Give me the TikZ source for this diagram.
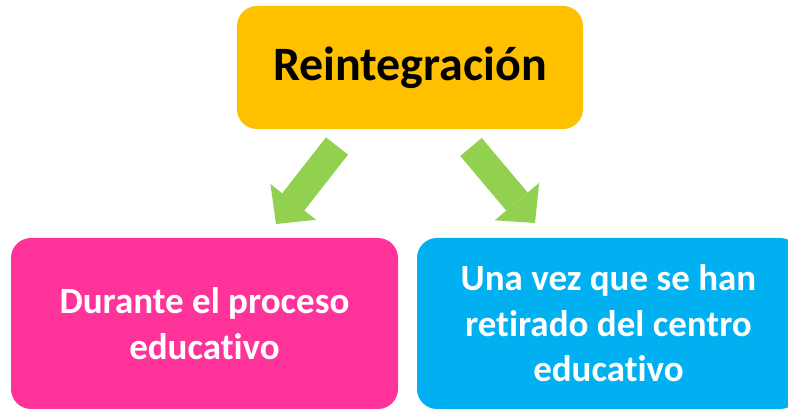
\documentclass[tikz,border=0pt]{standalone}
\usepackage{fontspec}
\setmainfont{Carlito}[Ligatures={NoCommon,NoContextual}]
\usetikzlibrary{arrows.meta}
\definecolor{reinorange}{HTML}{FFC000}
\definecolor{reingreen}{HTML}{92D050}
\definecolor{reinpink}{HTML}{FF3399}
\definecolor{reincyan}{HTML}{00B0F0}
\tikzset{
  card/.style={rounded corners=20pt,align=center,inner sep=0pt,draw=none,font=\bfseries\fontsize{37}{45.5}\selectfont},
  title/.style={card,fill=reinorange,text=black,minimum width=346pt,minimum height=123pt,font=\bfseries\fontsize{48}{56}\selectfont},
  during/.style={card,fill=reinpink,text=white,minimum width=387pt,minimum height=171pt},
  after/.style={card,fill=reincyan,text=white,minimum width=383pt,minimum height=171pt},
  bigarrow/.style={reingreen,line width=28pt,-{Triangle[length=28pt,width=58pt,line width=0pt]}}
}
\begin{document}
\begin{tikzpicture}[x=1pt,y=-1pt]
  \clip (0,0) rectangle (788,411);
  \fill[white] (0,0) rectangle (788,411);

  \node[title] (reint) at (410,67.5) {Reintegración};
  \node[during] (durante) at (204.5,323.5) {Durante el proceso\\educativo};
  \node[after] (despues) at (608.5,323.5) {Una vez que se han\\retirado del centro\\educativo};

  % arrow ends
  \coordinate (ltail) at (337,146);
  \coordinate (ltip) at (276,224);
  \coordinate (rtail) at (471,147);
  \coordinate (rtip) at (535,223);

  \draw[bigarrow] (ltail) -- (ltip);
  \draw[bigarrow] (rtail) -- (rtip);
\end{tikzpicture}
\end{document}
